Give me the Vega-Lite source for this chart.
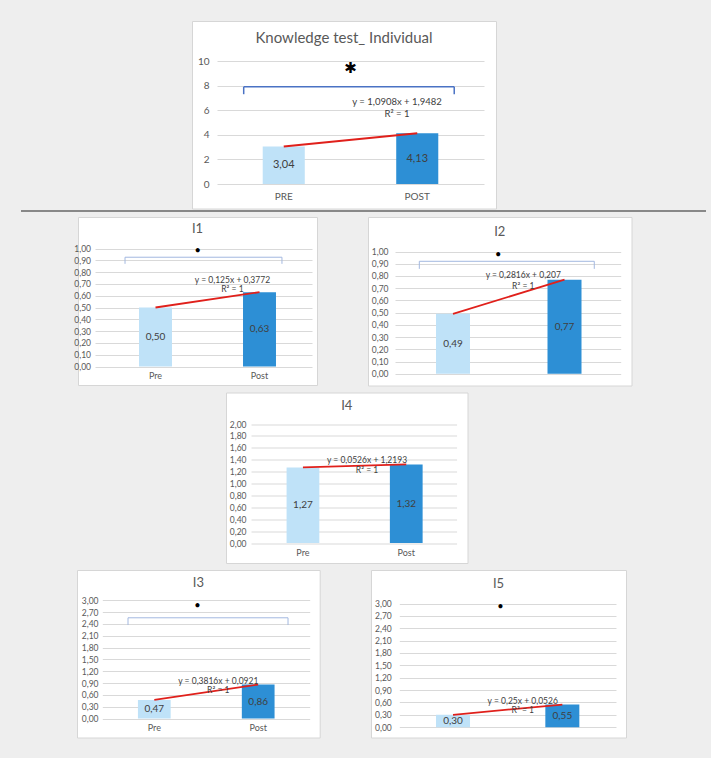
{
"$schema": "https://vega.github.io/schema/vega-lite/v6.json",
"background": "#eeeeee",
"padding": {"left": 0, "top": 20, "right": 6, "bottom": 20},
"config": {
  "font": "Lato",
  "view": {"stroke": null},
  "axis": {"labelOverlap": false, "labelColor": "#595959", "tickColor": "#d9d9d9", "domain": false, "grid": false, "labelFont": "Lato"},
  "title": {"font": "Lato", "fontWeight": "normal", "color": "#595959", "anchor": "middle"}
},
"spacing": 5.5,
"vconcat": [
{"spacing": 0, "vconcat": [
  {"spacing": 0, "hconcat": [
    {"width": 191, "height": 1, "data": {"values": []}, "mark": "point"},
    {"width": 304, "height": 187.5,
     "view": {"fill": "white", "stroke": "#d6d6d6"},
     "title": {"text": "Knowledge test_ Individual", "fontSize": 15, "offset": -25},
     "data": {"values": [{"g": "PRE", "v": 3.04, "lab": "3,04"}, {"g": "POST", "v": 4.13, "lab": "4,13"}]},
     "layer": [
        {"mark": {"type": "bar", "width": {"band": 0.315}},
         "encoding": {
          "x": {"field": "g", "type": "nominal", "title": null, "scale": {"domain": ["PRE", "POST"], "range": [25, 292], "paddingInner": 0, "paddingOuter": 0}, "axis": {"title": null, "orient": "bottom", "offset": -24.5, "labelPadding": 7, "ticks": false, "labelAngle": 0, "labelFontSize": 10}},
          "y": {"field": "v", "type": "quantitative", "title": null, "scale": {"domain": [0, 10], "range": [163, 40], "nice": false, "zero": false}, "axis": {"title": null, "values": [0, 2, 4, 6, 8, 10], "format": "d", "tickCount": 50, "labelOverlap": false, "offset": -25, "tickSize": -267, "labelPadding": 275, "labelFontSize": 10}},
          "color": {"field": "g", "type": "nominal", "scale": {"domain": ["PRE", "POST"], "range": ["#bfe2f8", "#2d8fd5"]}, "legend": null}}},
        {"mark": {"type": "line", "color": "#e0201b", "strokeWidth": 2},
         "encoding": {"x": {"field": "g", "type": "nominal", "title": null}, "y": {"field": "v", "type": "quantitative", "title": null}}},
        {"data": {"values": [{"a": "PRE", "b": "POST", "y": 7.9, "y2": 7.3}]},
         "mark": {"type": "rule", "color": "#4a72c4", "strokeWidth": 1.5}, "encoding": {"x": {"field": "a", "type": "nominal", "bandPosition": 0.2, "title": null}, "x2": {"field": "b", "bandPosition": 0.777, "title": null}, "y": {"field": "y", "type": "quantitative", "title": null}}},
        {"data": {"values": [{"a": "PRE", "b": "POST", "y": 7.9, "y2": 7.3}]},
         "mark": {"type": "rule", "color": "#4a72c4", "strokeWidth": 1.5}, "encoding": {"x": {"field": "a", "type": "nominal", "bandPosition": 0.2, "title": null}, "y": {"field": "y", "type": "quantitative", "title": null}, "y2": {"field": "y2", "title": null}}},
        {"data": {"values": [{"a": "PRE", "b": "POST", "y": 7.9, "y2": 7.3}]},
         "mark": {"type": "rule", "color": "#4a72c4", "strokeWidth": 1.5}, "encoding": {"x": {"field": "b", "type": "nominal", "bandPosition": 0.777, "title": null}, "y": {"field": "y", "type": "quantitative", "title": null}, "y2": {"field": "y2", "title": null}}},
        {"data": {"values": [{"g": "POST", "y": 9.4, "s": "✱"}]},
         "mark": {"type": "text", "fontSize": 15, "font": "DejaVu Sans", "color": "#000000"},
         "encoding": {"x": {"field": "g", "type": "nominal", "bandPosition": 0, "title": null}, "y": {"field": "y", "type": "quantitative", "title": null}, "text": {"field": "s"}}},
        {"data": {"values": [{"g": "POST", "y": 6.67, "t": "y = 1,0908x + 1,9482"}, {"g": "POST", "y": 5.69, "t": "R² = 1"}]},
         "mark": {"type": "text", "fontSize": 9.5, "color": "#404040"},
         "encoding": {"x": {"field": "g", "type": "nominal", "bandPosition": 0.348, "title": null}, "y": {"field": "y", "type": "quantitative", "title": null}, "text": {"field": "t"}}},
        {"transform": [{"filter": "datum.g == 'PRE'"}],
         "mark": {"type": "text", "fontSize": 11, "color": "#404040", "dy": 18.7},
         "encoding": {"x": {"field": "g", "type": "nominal", "title": null}, "y": {"field": "v", "type": "quantitative", "title": null}, "text": {"field": "lab"}}},
        {"transform": [{"filter": "datum.g == 'POST'"}],
         "mark": {"type": "text", "fontSize": 11, "color": "#404040", "dy": 25.4},
         "encoding": {"x": {"field": "g", "type": "nominal", "title": null}, "y": {"field": "v", "type": "quantitative", "title": null}, "text": {"field": "lab"}}}
     ]}
  ]},
  {"spacing": 0, "hconcat": [
    {"width": 20, "height": 1, "data": {"values": []}, "mark": "point"},
    {"width": 685, "height": 7, "data": {"values": [{}]},
     "mark": {"type": "rule", "color": "#666666", "strokeWidth": 1.5},
     "encoding": {"y": {"datum": 5, "type": "quantitative", "scale": {"domain": [0, 7], "nice": false}, "axis": null}}}
  ]},
  {"spacing": 0, "hconcat": [
    {"width": 73, "height": 1, "data": {"values": []}, "mark": "point"},
    {"width": 239, "height": 168,
     "view": {"fill": "white", "stroke": "#d6d6d6"},
     "title": {"text": "I1", "fontSize": 13, "offset": -19},
     "data": {"values": [{"g": "Pre", "v": 0.50, "lab": "0,50"}, {"g": "Post", "v": 0.63, "lab": "0,63"}]},
     "layer": [
        {"mark": {"type": "bar", "width": {"band": 0.317}},
         "encoding": {
          "x": {"field": "g", "type": "nominal", "title": null, "scale": {"domain": ["Pre", "Post"], "range": [25.5, 233.5], "paddingInner": 0, "paddingOuter": 0}, "axis": {"title": null, "orient": "bottom", "offset": -18.5, "labelPadding": 5, "ticks": false, "labelAngle": 0, "labelFontSize": 9}},
          "y": {"field": "v", "type": "quantitative", "title": null, "scale": {"domain": [0, 1], "range": [149.5, 31.5], "nice": false, "zero": false}, "axis": {"title": null, "values": [0, 0.1, 0.2, 0.3, 0.4, 0.5, 0.6, 0.7, 0.8, 0.9, 1], "tickCount": 50, "labelOverlap": false, "labelExpr": "replace(format(datum.value, '.2f'), '.', ',')", "offset": -17, "tickSize": -217, "labelPadding": 221.5, "labelFontSize": 8.5}},
          "color": {"field": "g", "type": "nominal", "scale": {"domain": ["Pre", "Post"], "range": ["#bfe2f8", "#2d8fd5"]}, "legend": null}}},
        {"mark": {"type": "line", "color": "#e0201b", "strokeWidth": 1.8},
         "encoding": {"x": {"field": "g", "type": "nominal", "title": null}, "y": {"field": "v", "type": "quantitative", "title": null}}},
        {"data": {"values": [{"a": "Pre", "b": "Post", "y": 0.926, "y2": 0.87}]},
         "mark": {"type": "rule", "color": "#a3b8e0", "strokeWidth": 1}, "encoding": {"x": {"field": "a", "type": "nominal", "bandPosition": 0.207, "title": null}, "x2": {"field": "b", "bandPosition": 0.716, "title": null}, "y": {"field": "y", "type": "quantitative", "title": null}}},
        {"data": {"values": [{"a": "Pre", "b": "Post", "y": 0.926, "y2": 0.87}]},
         "mark": {"type": "rule", "color": "#a3b8e0", "strokeWidth": 1}, "encoding": {"x": {"field": "a", "type": "nominal", "bandPosition": 0.207, "title": null}, "y": {"field": "y", "type": "quantitative", "title": null}, "y2": {"field": "y2", "title": null}}},
        {"data": {"values": [{"a": "Pre", "b": "Post", "y": 0.926, "y2": 0.87}]},
         "mark": {"type": "rule", "color": "#a3b8e0", "strokeWidth": 1}, "encoding": {"x": {"field": "b", "type": "nominal", "bandPosition": 0.716, "title": null}, "y": {"field": "y", "type": "quantitative", "title": null}, "y2": {"field": "y2", "title": null}}},
        {"data": {"values": [{"g": "Pre", "y": 0.983, "s": "•"}]},
         "mark": {"type": "text", "fontSize": 11, "color": "#000000"},
         "encoding": {"x": {"field": "g", "type": "nominal", "bandPosition": 0.906, "title": null}, "y": {"field": "y", "type": "quantitative", "title": null}, "text": {"field": "s"}}},
        {"data": {"values": [{"g": "Post", "y": 0.735, "t": "y = 0,125x + 0,3772"}, {"g": "Post", "y": 0.658, "t": "R² = 1"}]},
         "mark": {"type": "text", "fontSize": 8.5, "color": "#404040"},
         "encoding": {"x": {"field": "g", "type": "nominal", "bandPosition": 0.24, "title": null}, "y": {"field": "y", "type": "quantitative", "title": null}, "text": {"field": "t"}}},
        {"transform": [{"filter": "datum.g == 'Pre'"}],
         "mark": {"type": "text", "fontSize": 10, "color": "#404040", "dy": 29.5},
         "encoding": {"x": {"field": "g", "type": "nominal", "title": null}, "y": {"field": "v", "type": "quantitative", "title": null}, "text": {"field": "lab"}}},
        {"transform": [{"filter": "datum.g == 'Post'"}],
         "mark": {"type": "text", "fontSize": 10, "color": "#404040", "dy": 37.2},
         "encoding": {"x": {"field": "g", "type": "nominal", "title": null}, "y": {"field": "v", "type": "quantitative", "title": null}, "text": {"field": "lab"}}}
     ]},
    {"width": 49, "height": 1, "data": {"values": []}, "mark": "point"},
    {"width": 263.5, "height": 168.5,
     "view": {"fill": "white", "stroke": "#d6d6d6"},
     "title": {"text": "I2", "fontSize": 13, "offset": -22},
     "data": {"values": [{"g": "Pre", "v": 0.49, "lab": "0,49"}, {"g": "Post", "v": 0.77, "lab": "0,77"}]},
     "layer": [
        {"mark": {"type": "bar", "width": {"band": 0.305}},
         "encoding": {
          "x": {"field": "g", "type": "nominal", "title": null, "scale": {"domain": ["Pre", "Post"], "range": [29.25, 252.25], "paddingInner": 0, "paddingOuter": 0}, "axis": {"title": null, "labels": false, "ticks": false}},
          "y": {"field": "v", "type": "quantitative", "title": null, "scale": {"domain": [0, 1], "range": [156.8, 34.5], "nice": false, "zero": false}, "axis": {"title": null, "values": [0, 0.1, 0.2, 0.3, 0.4, 0.5, 0.6, 0.7, 0.8, 0.9, 1], "tickCount": 50, "labelOverlap": false, "labelExpr": "replace(format(datum.value, '.2f'), '.', ',')", "offset": -27, "tickSize": -225.7, "labelPadding": 232.7, "labelFontSize": 8.5}},
          "color": {"field": "g", "type": "nominal", "scale": {"domain": ["Pre", "Post"], "range": ["#bfe2f8", "#2d8fd5"]}, "legend": null}}},
        {"mark": {"type": "line", "color": "#e0201b", "strokeWidth": 1.8},
         "encoding": {"x": {"field": "g", "type": "nominal", "title": null}, "y": {"field": "v", "type": "quantitative", "title": null}}},
        {"data": {"values": [{"a": "Pre", "b": "Post", "y": 0.92, "y2": 0.858}]},
         "mark": {"type": "rule", "color": "#a3b8e0", "strokeWidth": 1}, "encoding": {"x": {"field": "a", "type": "nominal", "bandPosition": 0.198, "title": null}, "x2": {"field": "b", "bandPosition": 0.767, "title": null}, "y": {"field": "y", "type": "quantitative", "title": null}}},
        {"data": {"values": [{"a": "Pre", "b": "Post", "y": 0.92, "y2": 0.858}]},
         "mark": {"type": "rule", "color": "#a3b8e0", "strokeWidth": 1}, "encoding": {"x": {"field": "a", "type": "nominal", "bandPosition": 0.198, "title": null}, "y": {"field": "y", "type": "quantitative", "title": null}, "y2": {"field": "y2", "title": null}}},
        {"data": {"values": [{"a": "Pre", "b": "Post", "y": 0.92, "y2": 0.858}]},
         "mark": {"type": "rule", "color": "#a3b8e0", "strokeWidth": 1}, "encoding": {"x": {"field": "b", "type": "nominal", "bandPosition": 0.767, "title": null}, "y": {"field": "y", "type": "quantitative", "title": null}, "y2": {"field": "y2", "title": null}}},
        {"data": {"values": [{"g": "Pre", "y": 0.973, "s": "•"}]},
         "mark": {"type": "text", "fontSize": 11, "color": "#000000"},
         "encoding": {"x": {"field": "g", "type": "nominal", "bandPosition": 0.906, "title": null}, "y": {"field": "y", "type": "quantitative", "title": null}, "text": {"field": "s"}}},
        {"data": {"values": [{"g": "Post", "y": 0.81, "t": "y = 0,2816x + 0,207"}, {"g": "Post", "y": 0.72, "t": "R² = 1"}]},
         "mark": {"type": "text", "fontSize": 8.5, "color": "#404040"},
         "encoding": {"x": {"field": "g", "type": "nominal", "bandPosition": 0.13, "title": null}, "y": {"field": "y", "type": "quantitative", "title": null}, "text": {"field": "t"}}},
        {"transform": [{"filter": "datum.g == 'Pre'"}],
         "mark": {"type": "text", "fontSize": 10, "color": "#404040", "dy": 30},
         "encoding": {"x": {"field": "g", "type": "nominal", "title": null}, "y": {"field": "v", "type": "quantitative", "title": null}, "text": {"field": "lab"}}},
        {"transform": [{"filter": "datum.g == 'Post'"}],
         "mark": {"type": "text", "fontSize": 10, "color": "#404040", "dy": 47.1},
         "encoding": {"x": {"field": "g", "type": "nominal", "title": null}, "y": {"field": "v", "type": "quantitative", "title": null}, "text": {"field": "lab"}}}
     ]}
  ]}
]},
{"spacing": 0, "hconcat": [
  {"width": 224.4, "height": 1, "data": {"values": []}, "mark": "point"},
  {"width": 241.5, "height": 170.5,
   "view": {"fill": "white", "stroke": "#d6d6d6"},
   "title": {"text": "I4", "fontSize": 13, "offset": -20},
   "data": {"values": [{"g": "Pre", "v": 1.27, "lab": "1,27"}, {"g": "Post", "v": 1.32, "lab": "1,32"}]},
   "layer": [
      {"mark": {"type": "bar", "width": {"band": 0.317}},
       "encoding": {
        "x": {"field": "g", "type": "nominal", "title": null, "scale": {"domain": ["Pre", "Post"], "range": [25.3, 231.9], "paddingInner": 0, "paddingOuter": 0}, "axis": {"title": null, "orient": "bottom", "offset": -20, "labelPadding": 5, "ticks": false, "labelAngle": 0, "labelFontSize": 9}},
        "y": {"field": "v", "type": "quantitative", "title": null, "scale": {"domain": [0, 2], "range": [150.5, 31.5], "nice": false, "zero": false}, "axis": {"title": null, "values": [0, 0.2, 0.4, 0.6, 0.8, 1, 1.2, 1.4, 1.6, 1.8, 2], "tickCount": 50, "labelOverlap": false, "labelExpr": "replace(format(datum.value, '.2f'), '.', ',')", "offset": -25, "tickSize": -205.6, "labelPadding": 210.6, "labelFontSize": 8.5}},
        "color": {"field": "g", "type": "nominal", "scale": {"domain": ["Pre", "Post"], "range": ["#bfe2f8", "#2d8fd5"]}, "legend": null}}},
      {"mark": {"type": "line", "color": "#e0201b", "strokeWidth": 1.8},
       "encoding": {"x": {"field": "g", "type": "nominal", "title": null}, "y": {"field": "v", "type": "quantitative", "title": null}}},
      {"data": {"values": [{"g": "Post", "y": 1.40, "t": "y = 0,0526x + 1,2193"}, {"g": "Post", "y": 1.232, "t": "R² = 1"}]},
       "mark": {"type": "text", "fontSize": 8.5, "color": "#404040"},
       "encoding": {"x": {"field": "g", "type": "nominal", "bandPosition": 0.12, "title": null}, "y": {"field": "y", "type": "quantitative", "title": null}, "text": {"field": "t"}}},
      {"transform": [{"filter": "datum.g == 'Pre'"}],
       "mark": {"type": "text", "fontSize": 10, "color": "#404040", "dy": 37.8},
       "encoding": {"x": {"field": "g", "type": "nominal", "title": null}, "y": {"field": "v", "type": "quantitative", "title": null}, "text": {"field": "lab"}}},
      {"transform": [{"filter": "datum.g == 'Post'"}],
       "mark": {"type": "text", "fontSize": 10, "color": "#404040", "dy": 39.3},
       "encoding": {"x": {"field": "g", "type": "nominal", "title": null}, "y": {"field": "v", "type": "quantitative", "title": null}, "text": {"field": "lab"}}}
   ]}
]},
{"spacing": 0, "hconcat": [
  {"width": 76, "height": 1, "data": {"values": []}, "mark": "point"},
  {"width": 242.7, "height": 167.5,
   "view": {"fill": "white", "stroke": "#d6d6d6"},
   "title": {"text": "I3", "fontSize": 13, "offset": -20},
   "data": {"values": [{"g": "Pre", "v": 0.47, "lab": "0,47"}, {"g": "Post", "v": 0.86, "lab": "0,86"}]},
   "layer": [
      {"mark": {"type": "bar", "width": {"band": 0.315}},
       "encoding": {
        "x": {"field": "g", "type": "nominal", "title": null, "scale": {"domain": ["Pre", "Post"], "range": [25.35, 233.15], "paddingInner": 0, "paddingOuter": 0}, "axis": {"title": null, "orient": "bottom", "offset": -19, "labelPadding": 5, "ticks": false, "labelAngle": 0, "labelFontSize": 9}},
        "y": {"field": "v", "type": "quantitative", "title": null, "scale": {"domain": [0, 3], "range": [148.5, 30.2], "nice": false, "zero": false}, "axis": {"title": null, "values": [0, 0.3, 0.6, 0.9, 1.2, 1.5, 1.8, 2.1, 2.4, 2.7, 3], "tickCount": 50, "labelOverlap": false, "labelExpr": "replace(format(datum.value, '.2f'), '.', ',')", "offset": -25.3, "tickSize": -207.4, "labelPadding": 211.7, "labelFontSize": 8.5}},
        "color": {"field": "g", "type": "nominal", "scale": {"domain": ["Pre", "Post"], "range": ["#bfe2f8", "#2d8fd5"]}, "legend": null}}},
      {"mark": {"type": "line", "color": "#e0201b", "strokeWidth": 1.8},
       "encoding": {"x": {"field": "g", "type": "nominal", "title": null}, "y": {"field": "v", "type": "quantitative", "title": null}}},
      {"data": {"values": [{"a": "Pre", "b": "Post", "y": 2.554, "y2": 2.37}]},
       "mark": {"type": "rule", "color": "#a3b8e0", "strokeWidth": 1}, "encoding": {"x": {"field": "a", "type": "nominal", "bandPosition": 0.247, "title": null}, "x2": {"field": "b", "bandPosition": 0.787, "title": null}, "y": {"field": "y", "type": "quantitative", "title": null}}},
      {"data": {"values": [{"a": "Pre", "b": "Post", "y": 2.554, "y2": 2.37}]},
       "mark": {"type": "rule", "color": "#a3b8e0", "strokeWidth": 1}, "encoding": {"x": {"field": "a", "type": "nominal", "bandPosition": 0.247, "title": null}, "y": {"field": "y", "type": "quantitative", "title": null}, "y2": {"field": "y2", "title": null}}},
      {"data": {"values": [{"a": "Pre", "b": "Post", "y": 2.554, "y2": 2.37}]},
       "mark": {"type": "rule", "color": "#a3b8e0", "strokeWidth": 1}, "encoding": {"x": {"field": "b", "type": "nominal", "bandPosition": 0.787, "title": null}, "y": {"field": "y", "type": "quantitative", "title": null}, "y2": {"field": "y2", "title": null}}},
      {"data": {"values": [{"g": "Pre", "y": 2.85, "s": "•"}]},
       "mark": {"type": "text", "fontSize": 11, "color": "#000000"},
       "encoding": {"x": {"field": "g", "type": "nominal", "bandPosition": 0.914, "title": null}, "y": {"field": "y", "type": "quantitative", "title": null}, "text": {"field": "s"}}},
      {"data": {"values": [{"g": "Post", "y": 0.946, "t": "y = 0,3816x + 0,0921"}, {"g": "Post", "y": 0.72, "t": "R² = 1"}]},
       "mark": {"type": "text", "fontSize": 8.5, "color": "#404040"},
       "encoding": {"x": {"field": "g", "type": "nominal", "bandPosition": 0.116, "title": null}, "y": {"field": "y", "type": "quantitative", "title": null}, "text": {"field": "t"}}},
      {"transform": [{"filter": "datum.g == 'Pre'"}],
       "mark": {"type": "text", "fontSize": 10, "color": "#404040", "dy": 9.3},
       "encoding": {"x": {"field": "g", "type": "nominal", "title": null}, "y": {"field": "v", "type": "quantitative", "title": null}, "text": {"field": "lab"}}},
      {"transform": [{"filter": "datum.g == 'Post'"}],
       "mark": {"type": "text", "fontSize": 10, "color": "#404040", "dy": 17},
       "encoding": {"x": {"field": "g", "type": "nominal", "title": null}, "y": {"field": "v", "type": "quantitative", "title": null}, "text": {"field": "lab"}}}
   ]},
  {"width": 48.8, "height": 1, "data": {"values": []}, "mark": "point"},
  {"width": 255, "height": 167.5,
   "view": {"fill": "white", "stroke": "#d6d6d6"},
   "title": {"text": "I5", "fontSize": 13, "offset": -21},
   "data": {"values": [{"g": "Pre", "v": 0.30, "lab": "0,30"}, {"g": "Post", "v": 0.55, "lab": "0,55"}]},
   "layer": [
      {"mark": {"type": "bar", "width": {"band": 0.311}},
       "encoding": {
        "x": {"field": "g", "type": "nominal", "title": null, "scale": {"domain": ["Pre", "Post"], "range": [27.35, 246], "paddingInner": 0, "paddingOuter": 0}, "axis": {"title": null, "labels": false, "ticks": false}},
        "y": {"field": "v", "type": "quantitative", "title": null, "scale": {"domain": [0, 3], "range": [157.2, 33.5], "nice": false, "zero": false}, "axis": {"title": null, "values": [0, 0.3, 0.6, 0.9, 1.2, 1.5, 1.8, 2.1, 2.4, 2.7, 3], "tickCount": 50, "labelOverlap": false, "labelExpr": "replace(format(datum.value, '.2f'), '.', ',')", "offset": -28.3, "tickSize": -216.7, "labelPadding": 224.7, "labelFontSize": 8.5}},
        "color": {"field": "g", "type": "nominal", "scale": {"domain": ["Pre", "Post"], "range": ["#bfe2f8", "#2d8fd5"]}, "legend": null}}},
      {"mark": {"type": "line", "color": "#e0201b", "strokeWidth": 1.8},
       "encoding": {"x": {"field": "g", "type": "nominal", "title": null}, "y": {"field": "v", "type": "quantitative", "title": null}}},
      {"data": {"values": [{"g": "Pre", "y": 2.92, "s": "•"}]},
       "mark": {"type": "text", "fontSize": 11, "color": "#000000"},
       "encoding": {"x": {"field": "g", "type": "nominal", "bandPosition": 0.933, "title": null}, "y": {"field": "y", "type": "quantitative", "title": null}, "text": {"field": "s"}}},
      {"data": {"values": [{"g": "Post", "y": 0.63, "t": "y = 0,25x + 0,0526"}, {"g": "Post", "y": 0.41, "t": "R² = 1"}]},
       "mark": {"type": "text", "fontSize": 8.5, "color": "#404040"},
       "encoding": {"x": {"field": "g", "type": "nominal", "bandPosition": 0.138, "title": null}, "y": {"field": "y", "type": "quantitative", "title": null}, "text": {"field": "t"}}},
      {"transform": [{"filter": "datum.g == 'Pre'"}],
       "mark": {"type": "text", "fontSize": 10, "color": "#404040", "dy": 6.2},
       "encoding": {"x": {"field": "g", "type": "nominal", "title": null}, "y": {"field": "v", "type": "quantitative", "title": null}, "text": {"field": "lab"}}},
      {"transform": [{"filter": "datum.g == 'Post'"}],
       "mark": {"type": "text", "fontSize": 10, "color": "#404040", "dy": 11.3},
       "encoding": {"x": {"field": "g", "type": "nominal", "title": null}, "y": {"field": "v", "type": "quantitative", "title": null}, "text": {"field": "lab"}}}
   ]}
]}
]
}
